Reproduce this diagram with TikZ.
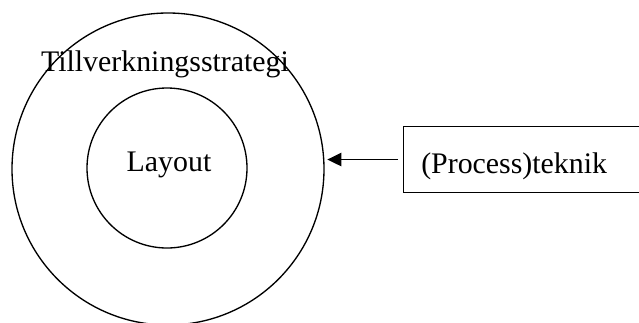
\documentclass[tikz,border=0pt]{standalone}
\usepackage{fontspec}
\setmainfont{Liberation Serif}
\usetikzlibrary{arrows.meta,calc}
\begin{document}
\begin{tikzpicture}[x=0.75pt,y=-0.75pt,
  every node/.style={font=\fontsize{22.4}{27}\selectfont, inner sep=0pt},
  ring/.style={circle, draw, line width=1pt},
  procbox/.style={rectangle, draw, line width=1pt, anchor=north west},
  conn/.style={line width=1pt, -{Triangle[length=10.5pt,width=10pt]}}]
\useasboundingbox (0,0) rectangle (639,322);
\node (outer) [ring, minimum size=234pt] at (168,169) {};
\node (strat) at (165,64.7) {Tillverkningsstrategi};
\node (inner) [ring, minimum size=120pt] at (167,168) {};
\node (layout) at (169,165.3) {Layout};
\node (box) [procbox, minimum width=181.5pt, minimum height=49.3pt] at (403,126) {};
\node (proc) [anchor=base west] at (421,173) {(Process)teknik};
\draw[conn, shorten <=3.75pt, shorten >=2pt] (box.west) -- (box.west -| outer.east);
\end{tikzpicture}
\end{document}
